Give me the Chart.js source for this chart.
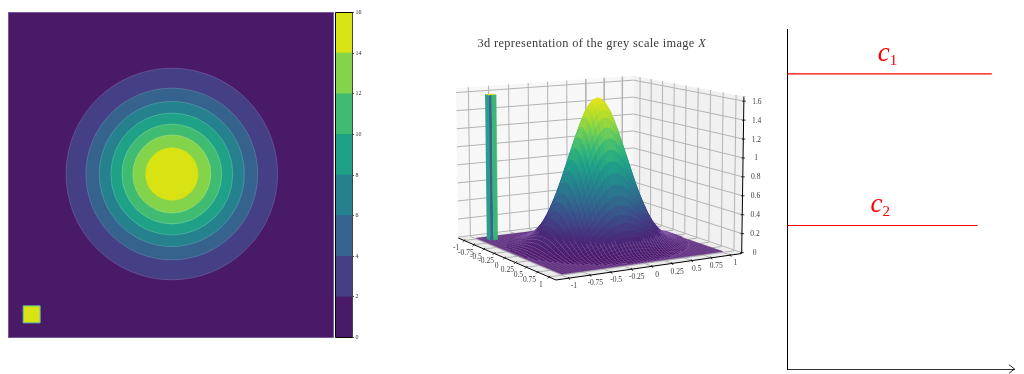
<!DOCTYPE html>
<html><head><meta charset="utf-8">
<script src="https://cdn.jsdelivr.net/npm/chart.js@4"></script>
<style>
html,body{margin:0;padding:0;background:#fff;width:1024px;height:374px;overflow:hidden}
canvas{position:absolute;display:block}
</style></head><body>
<canvas id="contour" width="326" height="326" style="left:8px;top:12px"></canvas>
<canvas id="colorbar" width="40" height="346" style="left:330px;top:2px"></canvas>
<canvas id="surface" width="330" height="290" style="left:440px;top:20px"></canvas>
<canvas id="levels" width="254" height="374" style="left:770px;top:0px"></canvas>
<script>
/* ---------- data ---------- */
const levelEdges   = [0,2,4,6,8,10,12,14,16];
const levelColors  = ['#481a67','#453f85','#35638e','#26818e','#1fa187','#40bc72','#84d44b','#d9e213'];
const contourRadii = [0.649,0.527,0.445,0.374,0.306,0.239,0.161];   // outermost (level 2) to innermost
const contourEdge  = ['#7d70ab','#6a8fb0','#6ba7b3','#6cc3b0','#88d8a2','#b0e488','#d9e213'];
const contourCentre = [0.005,0.006];
const squareCentre  = [-0.855,-0.855];
const squareHalf    = 0.052;

const xTicks = [-1,-0.75,-0.5,-0.25,0,0.25,0.5,0.75,1];
const yTicks = [-1,-0.75,-0.5,-0.25,0,0.25,0.5,0.75,1];
const zTicks = [0,0.2,0.4,0.6,0.8,1,1.2,1.4,1.6];
const xyTickLabels = ['-1','-0.75','-0.5','-0.25','0','0.25','0.5','0.75','1'];
const zTickLabels  = ['0','0.2','0.4','0.6','0.8','1','1.2','1.4','1.6'];

// surface height against distance from the centre, step 0.05
const profileHeight = [1.61,1.59,1.53,1.44,1.31,1.17,1.02,0.87,0.72,0.58,0.46,0.35,0.26,0.19,0.14,0.10,0.065,0.043,0.028,0.017,0.011,0.006,0.003,0.002,0.001,0,0,0,0,0];
const profileStep = 0.05;
const spikeCentre = [-0.86,-0.87];
const spikeHalf   = 0.045;
const spikeHeight = 1.6;
const spikeColors = ['#2a9d8c','#33658e','#3cb674','#d9e213'];

const c1Level = 0.868, c1End = 0.90;
const c2Level = 0.422, c2End = 0.837;

const viridis = ['#46125f','#482878','#3e4989','#31688e','#26828e','#1f9e89','#35b779','#6ece58','#b5de2b','#e8e419'];

/* ---------- shared ---------- */
const SERIF = '"Liberation Serif","DejaVu Serif",serif';
const base = {responsive:false,animation:false,events:[],
  plugins:{legend:{display:false},tooltip:{enabled:false},title:{display:false}},
  layout:{padding:0}};

/* ---------- left: filled contours ---------- */
(function(){
  const cx=contourCentre[0], cy=contourCentre[1];
  const pxLen=(chart,d)=>Math.abs(chart.scales.x.getPixelForValue(d)-chart.scales.x.getPixelForValue(0));
  const paint=[];
  paint.push({type:'scatter',showLine:true,fill:'shape',clip:false,pointRadius:0,
    data:[{x:-0.997,y:-0.997},{x:0.997,y:-0.997},{x:0.997,y:0.997},{x:-0.997,y:0.997},{x:-0.997,y:-0.997}],
    backgroundColor:levelColors[0],borderColor:'#76589a',borderWidth:1});
  contourRadii.forEach((r,i)=>paint.push({type:'scatter',clip:false,data:[{x:cx,y:cy}],pointStyle:'circle',
    pointRadius:c=>pxLen(c.chart,r),pointBackgroundColor:levelColors[i+1],pointBorderColor:contourEdge[i],pointBorderWidth:0.5}));
  paint.push({type:'scatter',clip:false,data:[{x:squareCentre[0],y:squareCentre[1]}],pointStyle:'rect',
    pointRadius:c=>pxLen(c.chart,squareHalf)/Math.SQRT1_2,pointBackgroundColor:levelColors[7],pointBorderColor:'#5fc3a8',pointBorderWidth:1});
  new Chart(document.getElementById('contour'),{type:'scatter',data:{datasets:paint.reverse()},options:{...base,
    scales:{x:{type:'linear',min:-1,max:1,display:false},y:{type:'linear',min:-1,max:1,display:false}}}});
})();

/* ---------- colour bar ---------- */
(function(){
  const frame={id:'frame',afterDraw(ch){const a=ch.chartArea,c=ch.ctx;c.save();c.strokeStyle='#000';c.lineWidth=1;
    c.beginPath();c.moveTo(a.right+.5,a.top);c.lineTo(a.left,a.top);c.lineTo(a.left,a.bottom);c.lineTo(a.right+.5,a.bottom);c.stroke();c.restore();}};
  new Chart(document.getElementById('colorbar'),{type:'bar',
    data:{labels:['levels'],datasets:levelColors.map((col,i)=>({data:[levelEdges[i+1]-levelEdges[i]],backgroundColor:col,borderWidth:0,stack:'s',categoryPercentage:1,barPercentage:1}))},
    options:{...base,layout:{padding:{left:5.5,top:10.5,bottom:10.5,right:0}},
      scales:{x:{display:false,stacked:true},
        y:{stacked:true,position:'right',min:0,max:16,afterFit(s){s.width=18;},
          border:{color:'#444',width:1},
          grid:{drawOnChartArea:false,drawTicks:true,tickLength:2,color:'#222',lineWidth:0.8},
          ticks:{stepSize:2,autoSkip:false,padding:1.5,color:'#333',font:{family:SERIF,size:6}}}}},
    plugins:[frame]});
})();

/* ---------- middle: 3d surface ---------- */
(function(){
  // calibration of the box seen in the picture
  const paneHalf=1.15, zFloor=-0.01, zCeil=1.65;
  const corners=[[458.3,238],[556,280],[741.7,253.5],[633,216.5]]; // (-,-) (+,-) (+,+) (-,+)
  const zPerUnit=[90.3,95.8,94.6,84.7];                             // height of one z unit at those corners
  const [[x0,y0],[x1,y1],[x2,y2],[x3,y3]]=corners;
  const sx=x0-x1+x2-x3, sy=y0-y1+y2-y3, dx1=x1-x2, dy1=y1-y2, dx2=x3-x2, dy2=y3-y2, det=dx1*dy2-dx2*dy1;
  const g=(sx*dy2-dx2*sy)/det, h=(dx1*sy-sx*dy1)/det;
  const a=x1-x0+g*x1,b=x3-x0+h*x3,d=y1-y0+g*y1,e=y3-y0+h*y3;
  const lean=0.0095, leanOrigin=600;
  function P(x,y,z){
    const u=(x+paneHalf)/(2*paneHalf), v=(y+paneHalf)/(2*paneHalf), w=g*u+h*v+1, zz=z-zFloor;
    const bx=(a*u+b*v+x0)/w, by=(d*u+e*v+y0)/w;
    const k=zPerUnit[0]*(1-u)*(1-v)+zPerUnit[1]*u*(1-v)+zPerUnit[2]*u*v+zPerUnit[3]*(1-u)*v;
    return {x:bx+(bx-leanOrigin)*lean*zz, y:by-zz*k};
  }
  const poly=(pts,col,stroke,sw)=>({type:'scatter',showLine:true,fill:'shape',clip:false,pointRadius:0,tension:0,
    data:pts,backgroundColor:col,borderColor:stroke||col,borderWidth:sw===undefined?0.5:sw});
  const line=(pts,col,w)=>({type:'scatter',showLine:true,fill:false,clip:false,pointRadius:0,tension:0,
    data:pts,borderColor:col,borderWidth:w});
  const hex=s=>[1,3,5].map(i=>parseInt(s.substr(i,2),16));
  function cmap(t){t=Math.max(0,Math.min(1,t))*(viridis.length-1);const i=Math.min(viridis.length-2,Math.floor(t)),f=t-i,A=hex(viridis[i]),B=hex(viridis[i+1]);
    return 'rgb('+A.map((v,k)=>Math.round(v+(B[k]-v)*f)).join(',')+')';}
  function height(x,y){const t=Math.hypot(x,y)/profileStep,i=Math.floor(t);
    if(i>=profileHeight.length-1)return 0;return profileHeight[i]+(profileHeight[i+1]-profileHeight[i])*(t-i);}

  const p=paneHalf, paint=[];
  // panes
  paint.push(poly([P(-p,-p,zFloor),P(p,-p,zFloor),P(p,p,zFloor),P(-p,p,zFloor)],'#ececec','#ececec',0));
  paint.push(poly([P(-p,-p,zFloor),P(-p,p,zFloor),P(-p,p,zCeil),P(-p,-p,zCeil)],'#f7f7f7','#f7f7f7',0));
  paint.push(poly([P(-p,p,zFloor),P(p,p,zFloor),P(p,p,zCeil),P(-p,p,zCeil)],'#f1f1f1','#f1f1f1',0));
  // pane grids
  const G='#b4b4b4';
  yTicks.forEach(t=>{paint.push(line([P(-p,t,zCeil),P(-p,t,zFloor),P(p,t,zFloor)],G,1));});
  xTicks.forEach(t=>{paint.push(line([P(t,p,zCeil),P(t,p,zFloor),P(t,-p,zFloor)],G,1));});
  zTicks.forEach(t=>{paint.push(line([P(-p,-p,t),P(-p,p,t),P(p,p,t)],G,1));});
  // axis lines and ticks
  paint.push(line([P(-p,-p,zFloor),P(p,-p,zFloor),P(p,p,zFloor),P(p,p,zCeil)],'#000',1));
  xTicks.forEach(t=>{const q=P(t,-p,zFloor);paint.push(line([{x:q.x-1.4,y:q.y+1.4},{x:q.x+1.2,y:q.y-1.2}],'#000',0.8));});
  yTicks.forEach(t=>{const q=P(p,t,zFloor);paint.push(line([{x:q.x+0.9,y:q.y+1.6},{x:q.x-0.6,y:q.y-1.2}],'#000',0.8));});
  zTicks.forEach(t=>{const q=P(p,p,t);paint.push(line([{x:q.x-1.5,y:q.y},{x:q.x+2,y:q.y}],'#000',0.8));});

  // surface floor
  const step=0.04, n=50;
  const idx=k=>-1+k*step;
  paint.push(poly([P(-1,-1,0),P(1,-1,0),P(1,1,0),P(-1,1,0)],'#47145f','#47145f',0.5));
  const mesh='rgba(160,120,195,0.65)';
  for(let k=0;k<=n;k++){paint.push(line([P(idx(k),-1,0),P(idx(k),1,0)],mesh,0.45));paint.push(line([P(-1,idx(k),0),P(1,idx(k),0)],mesh,0.45));}
  // spike of the small bright square
  const sxL=spikeCentre[0]-spikeHalf,sxR=spikeCentre[0]+spikeHalf,syL=spikeCentre[1]-spikeHalf,syR=spikeCentre[1]+spikeHalf,syM=syL+(syR-syL)*0.4;
  paint.push(poly([P(sxL,syL,0),P(sxR,syL,0),P(sxR,syL,spikeHeight),P(sxL,syL,spikeHeight)],spikeColors[0]));
  paint.push(poly([P(sxR,syL,0),P(sxR,syM,0),P(sxR,syM,spikeHeight),P(sxR,syL,spikeHeight)],spikeColors[1]));
  paint.push(poly([P(sxR,syM,0),P(sxR,syR,0),P(sxR,syR,spikeHeight),P(sxR,syM,spikeHeight)],spikeColors[2]));
  paint.push(poly([P(sxL,syL,spikeHeight),P(sxR,syL,spikeHeight),P(sxR,syR,spikeHeight),P(sxL,syR,spikeHeight)],spikeColors[3],spikeColors[3],0));
  // surface hump, back to front
  const maxZ=profileHeight[0];
  for(let i=0;i<n;i++)for(let j=n-1;j>=0;j--){
    const xa=idx(i),xb=idx(i+1),ya=idx(j),yb=idx(j+1);
    if(Math.hypot((xa+xb)/2,(ya+yb)/2)>1.0)continue;
    const z=[height(xa,ya),height(xb,ya),height(xb,yb),height(xa,yb)],m=(z[0]+z[1]+z[2]+z[3])/4,col=cmap(m/maxZ);
    paint.push(poly([P(xa,ya,z[0]),P(xb,ya,z[1]),P(xb,yb,z[2]),P(xa,yb,z[3])],col,m<0.16?mesh:col,m<0.16?0.45:0.4));
  }
  const text={id:'text3d',afterDraw(ch){
    const c=ch.ctx,X=ch.scales.x,Y=ch.scales.y;
    c.save();c.fillStyle='#3a3a3a';c.textBaseline='middle';c.textAlign='center';c.font='7.5px '+SERIF;
    const put=(s,q,ox,oy)=>c.fillText(s,X.getPixelForValue(q.x)+ox,Y.getPixelForValue(q.y)+oy);
    xTicks.forEach((t,i)=>put(xyTickLabels[i],P(t,-p,zFloor),-8,8));
    yTicks.forEach((t,i)=>put(xyTickLabels[i],P(p,t,zFloor),5,8.3));
    zTicks.forEach((t,i)=>{const q=P(p,p,t);c.fillText(zTickLabels[i],X.getPixelForValue(q.x+13),Y.getPixelForValue(q.y)+0.5);});
    c.textAlign='left';c.font='12.4px '+SERIF;c.letterSpacing='0.33px';
    const title='3d representation of the grey scale image ';
    const tx=X.getPixelForValue(477.5),ty=Y.getPixelForValue(43.5);
    c.fillText(title,tx,ty);
    const w=c.measureText(title).width;
    c.font='italic 12.4px '+SERIF;c.fillText('X',tx+w,ty);
    c.restore();}};
  new Chart(document.getElementById('surface'),{type:'scatter',data:{datasets:paint.reverse()},
    options:{...base,scales:{x:{type:'linear',min:440,max:770,display:false},y:{type:'linear',min:20,max:310,reverse:true,display:false}}},
    plugins:[text]});
})();

/* ---------- right: two levels ---------- */
(function(){
  const red='#ff0000';
  const lab={id:'labels',afterDraw(ch){const c=ch.ctx,X=ch.scales.x,Y=ch.scales.y;c.save();c.fillStyle=red;c.textBaseline='alphabetic';c.textAlign='left';
    const put=(s,sub,xv,yv,ox,oy)=>{const x=X.getPixelForValue(xv)+ox,y=Y.getPixelForValue(yv)+oy;
      c.font='italic 27px '+SERIF;c.fillText(s,x,y);const w=c.measureText(s).width;c.font='15px '+SERIF;c.fillText(sub,x+w,y+4);};
    put('c','1',c1End/2,c1Level,-12,-13);
    put('c','2',c2End/2,c2Level,-12,-13.5);
    c.restore();}};
  new Chart(document.getElementById('levels'),{type:'scatter',data:{datasets:[
      {showLine:true,clip:false,pointRadius:0,borderColor:red,borderWidth:1.2,data:[{x:0,y:c1Level},{x:c1End,y:c1Level}]},
      {showLine:true,clip:false,pointRadius:0,borderColor:red,borderWidth:1.2,data:[{x:0,y:c2Level},{x:c2End,y:c2Level}]},
      {showLine:true,clip:false,pointRadius:0,borderColor:'#111',borderWidth:0.9,data:[{x:0.976,y:0.0125},{x:1,y:0},{x:0.976,y:-0.0125}]}
    ]},
    options:{...base,layout:{padding:{left:17.5,top:29,right:9.5,bottom:5}},
      scales:{
        x:{type:'linear',min:0,max:1,afterFit(s){s.height=0;},grid:{display:false},ticks:{display:false},border:{color:'#333',width:1}},
        y:{type:'linear',min:0,max:1,afterFit(s){s.width=0;},grid:{display:false},ticks:{display:false},border:{color:'#000',width:1}}}},
    plugins:[lab]});
})();
</script>
</body></html>
